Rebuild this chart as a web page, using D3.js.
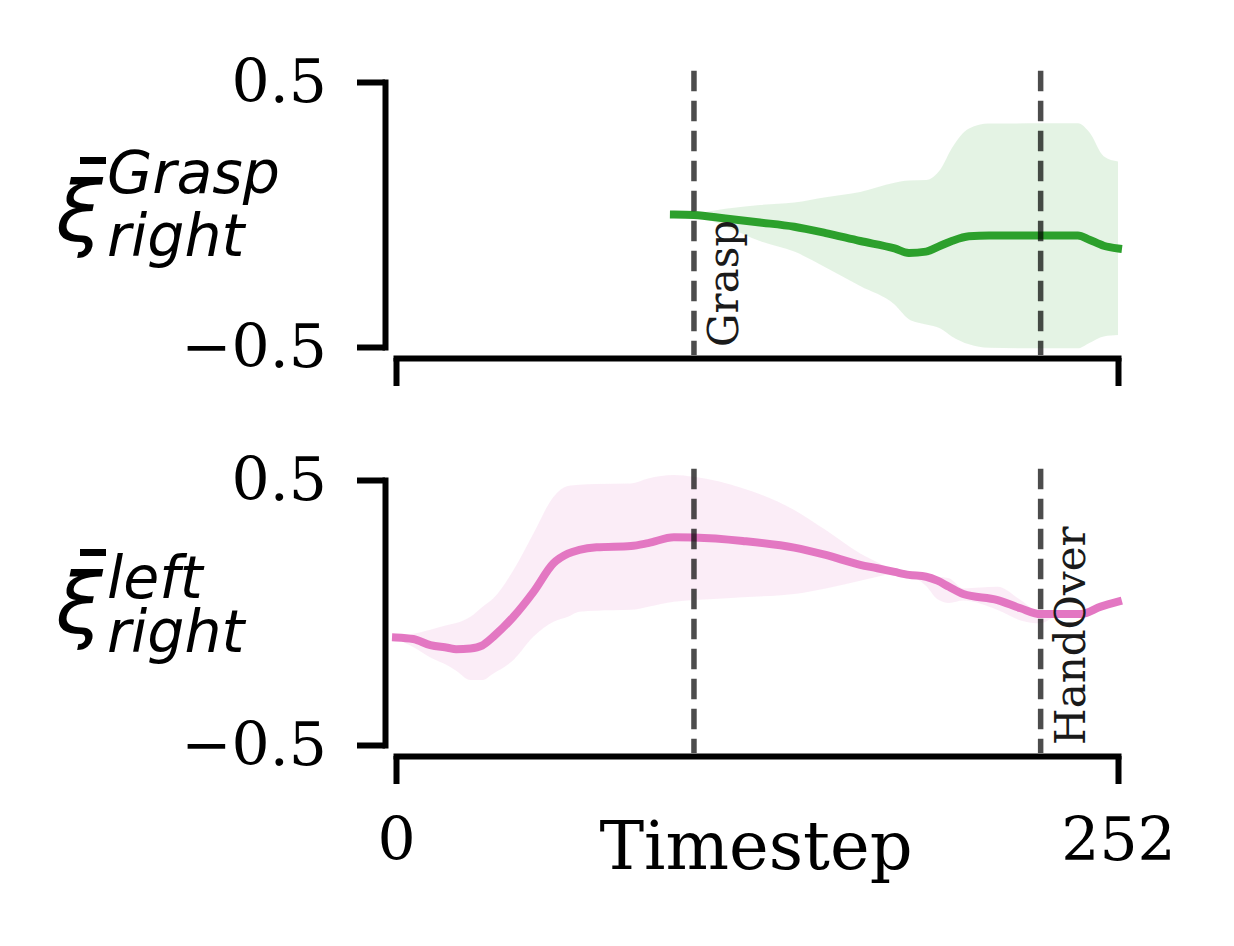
<!DOCTYPE html>
<html>
<head>
<meta charset="utf-8">
<script src="https://cdn.jsdelivr.net/npm/d3@7"></script>
<style>
  body { margin: 0; background: #fff; }
  svg { display: block; }
</style>
</head>
<body>
<div id="chart"></div>
<script>
// x extent and phase events
const xMax = 252
const events = [104, 225]
const eventNames = ['Grasp', 'HandOver']

// top panel: xi_right^Grasp
const greenT = [97, 104, 115, 127, 139, 150, 162, 174, 179, 185, 190, 194, 200, 207, 225, 238, 242, 247, 252]
const greenMean = [0.0, -0.002, -0.015, -0.03, -0.046, -0.07, -0.10, -0.128, -0.145, -0.14, -0.118, -0.10, -0.082, -0.079, -0.079, -0.079, -0.095, -0.118, -0.128]
const greenLo = [0.0, -0.006, -0.045, -0.10, -0.14, -0.20, -0.27, -0.34, -0.395, -0.415, -0.43, -0.46, -0.49, -0.503, -0.505, -0.505, -0.485, -0.46, -0.455]
const greenHi = [0.0, 0.004, 0.022, 0.036, 0.045, 0.065, 0.085, 0.12, 0.128, 0.13, 0.17, 0.25, 0.325, 0.343, 0.344, 0.344, 0.31, 0.22, 0.20]

// bottom panel: xi_right^left
const pinkT = [0, 6, 12, 18, 21, 26, 30, 34, 41, 48, 55, 60, 64, 70, 82, 88, 97, 104, 121, 139, 150, 162, 168, 174, 179, 185, 189, 193, 198, 210, 218, 225, 232, 239, 246, 252]
const pinkMean = [-0.094, -0.10, -0.123, -0.133, -0.139, -0.136, -0.125, -0.091, -0.016, 0.078, 0.186, 0.222, 0.236, 0.246, 0.251, 0.262, 0.284, 0.283, 0.27, 0.245, 0.217, 0.18, 0.167, 0.153, 0.142, 0.135, 0.12, 0.097, 0.07, 0.047, 0.016, -0.006, -0.006, -0.006, 0.022, 0.041]
const pinkLo = [-0.10, -0.13, -0.17, -0.20, -0.22, -0.255, -0.255, -0.23, -0.179, -0.091, -0.035, -0.016, 0.003, 0.007, 0.01, 0.022, 0.041, 0.047, 0.058, 0.07, 0.091, 0.12, 0.135, 0.146, 0.14, 0.10, 0.05, 0.036, 0.045, 0.009, -0.03, -0.041, -0.006, -0.006, 0.022, 0.041]
const pinkHi = [-0.085, -0.08, -0.065, -0.047, -0.04, -0.016, 0.02, 0.054, 0.16, 0.299, 0.437, 0.477, 0.482, 0.485, 0.487, 0.506, 0.519, 0.512, 0.469, 0.387, 0.311, 0.223, 0.19, 0.16, 0.15, 0.142, 0.135, 0.129, 0.091, 0.097, 0.047, -0.002, -0.006, -0.006, 0.022, 0.041]

const yTicks = [-0.5, 0.5]
const xTicks = [0, 252]

const width = 1234, height = 946
const serif = "'DejaVu Serif', serif"
const sans = "'DejaVu Sans', sans-serif"

const svg = d3.select('#chart').append('svg')
  .attr('width', width)
  .attr('height', height)

const x = d3.scaleLinear().domain([0, xMax]).range([396, 1118])

const panels = [
  {t: greenT, mean: greenMean, lo: greenLo, hi: greenHi, color: '#2ca02c',
    top: 82, sup: 'Grasp', note: 0, showX: false,
    lab: {xi: 26, sup: -22, sub: 41}},
  {t: pinkT, mean: pinkMean, lo: pinkLo, hi: pinkHi, color: '#e377c2',
    top: 480, sup: 'left', note: 1, showX: true,
    lab: {xi: 20, sup: -15, sub: 39}}
]

panels.forEach(p => {
  const y = d3.scaleLinear().domain([-0.5, 0.5]).range([p.top + 265, p.top])
  const g = svg.append('g')
  const rows = p.t.map((t, i) => ({t: t, m: p.mean[i], lo: p.lo[i], hi: p.hi[i]}))

  // std band
  g.append('path')
    .datum(rows)
    .attr('d', d3.area().curve(d3.curveMonotoneX)
      .x(d => x(d.t)).y0(d => y(d.lo)).y1(d => y(d.hi)))
    .attr('fill', p.color)
    .attr('fill-opacity', 0.13)

  // mean line
  g.append('path')
    .datum(rows)
    .attr('d', d3.line().curve(d3.curveMonotoneX).x(d => x(d.t)).y(d => y(d.m)))
    .attr('fill', 'none')
    .attr('stroke', p.color)
    .attr('stroke-width', 8)
    .attr('stroke-linecap', 'square')

  // phase lines
  g.selectAll('.vline')
    .data(events)
    .enter().append('line')
    .attr('x1', d => x(d)).attr('x2', d => x(d))
    .attr('y1', y(0.542)).attr('y2', y(-0.53))
    .attr('stroke', 'black')
    .attr('stroke-opacity', 0.7)
    .attr('stroke-width', 5.5)
    .attr('stroke-dasharray', '20.5,9.5')

  const ev = events[p.note]
  g.append('text')
    .attr('transform', `translate(${x(ev) + 44}, ${y(-0.5)}) rotate(-90)`)
    .style('font-family', serif)
    .style('font-size', '42px')
    .style('fill', '#1a1a1a')
    .text(eventNames[p.note])

  // y axis
  const ya = g.append('g')
    .attr('transform', 'translate(385,0)')
    .call(d3.axisLeft(y).tickValues(yTicks).tickSize(28).tickSizeOuter(0).tickPadding(30)
      .tickFormat(d => d < 0 ? '\u22120.5' : '0.5'))
  // x axis
  const xa = g.append('g')
    .attr('transform', `translate(0,${y(-0.5) + 11})`)
    .call(d3.axisBottom(x).tickValues(xTicks).tickSize(28).tickSizeOuter(0).tickPadding(33))
  if (!p.showX) xa.selectAll('text').remove()

  ;[ya, xa].forEach(a => {
    a.select('.domain').attr('stroke-width', 6).attr('stroke-linecap', 'square')
    a.selectAll('.tick line').attr('stroke-width', 6)
    a.selectAll('text').style('font-family', serif).style('font-size', '60px').attr('fill', 'black')
  })

  // y label: bar xi with super/subscript
  const mid = y(0)
  const lab = g.append('g').attr('transform', `translate(0,${mid})`)
  lab.append('text')
    .attr('x', 56).attr('y', p.lab.xi)
    .style('font-family', sans).style('font-style', 'italic').style('font-size', '84px')
    .text('\u03be')
  lab.append('line')
    .attr('x1', 80).attr('x2', 106)
    .attr('y1', p.lab.xi - 80).attr('y2', p.lab.xi - 80)
    .attr('stroke', 'black').attr('stroke-width', 7)
  lab.append('text')
    .attr('x', 107).attr('y', p.lab.sup)
    .style('font-family', sans).style('font-style', 'italic').style('font-size', '58.5px')
    .text(p.sup)
  lab.append('text')
    .attr('x', 107).attr('y', p.lab.sub)
    .style('font-family', sans).style('font-style', 'italic').style('font-size', '58.5px')
    .text('right')
})

svg.append('text')
  .attr('x', 756).attr('y', 869)
  .attr('text-anchor', 'middle')
  .style('font-family', serif)
  .style('font-size', '67px')
  .text('Timestep')
</script>
</body>
</html>
